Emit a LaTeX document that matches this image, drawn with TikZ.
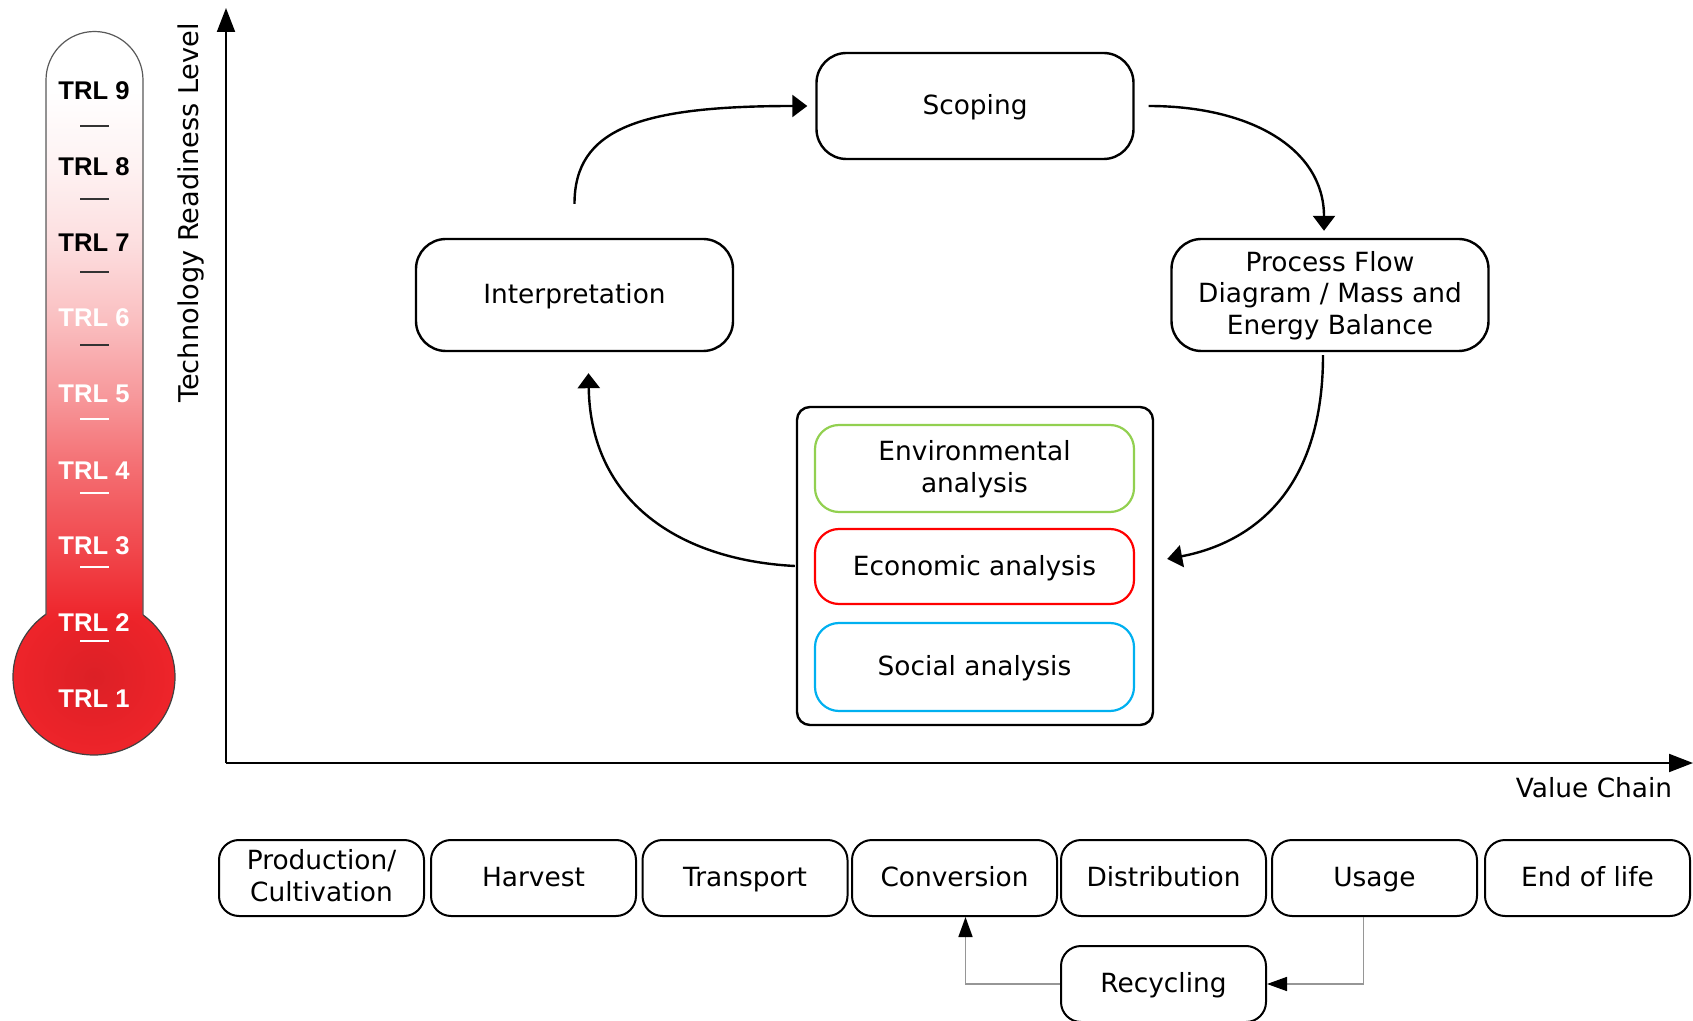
\documentclass[tikz,border=0pt]{standalone}
\usepackage{fontspec}
\setmainfont{DejaVu Sans}
\newfontfamily\trlfont{Liberation Sans}
\usetikzlibrary{arrows.meta,calc}
\definecolor{trlred}{RGB}{238,36,42}
\definecolor{bulbin}{RGB}{220,32,38}
\definecolor{envgreen}{RGB}{146,208,80}
\definecolor{ecored}{RGB}{255,0,0}
\definecolor{socblue}{RGB}{0,176,240}
\definecolor{recgray}{RGB}{150,150,150}
\newcommand\mytopstrut{\rule{0pt}{13.5pt}}
\newcommand\mybotstrut{\rule[-4.74pt]{0pt}{0pt}}
\newcommand\mlstrut{\rule{0pt}{12.5pt}}
\pgfdeclareverticalshading{tubeshade}{100bp}{color(0bp)=(trlred); color(25bp)=(trlred); color(31bp)=(trlred!84!white); color(38bp)=(trlred!66!white); color(44bp)=(trlred!47!white); color(51bp)=(trlred!28!white); color(57bp)=(trlred!15!white); color(63.5bp)=(trlred!6!white); color(70bp)=(white); color(100bp)=(white)}
\begin{document}
\begin{tikzpicture}[x=0.5pt,y=-0.5pt,
  txt/.style={font=\fontsize{13.2}{15.8}\selectfont},
  boxtxt/.style={txt,execute at begin node=\mytopstrut,execute at end node=\mybotstrut},
  mainbox/.style={draw,line width=1.2pt,rounded corners=15pt,minimum width=158.5pt,align=center,inner sep=0pt,boxtxt},
  colbox/.style={draw,line width=1.1pt,rounded corners=12pt,minimum width=159.5pt,align=center,inner sep=0pt,boxtxt},
  chainbox/.style={draw,line width=1pt,rounded corners=10pt,minimum width=102.5pt,minimum height=38pt,align=center,inner sep=0pt,boxtxt},
  container/.style={draw,line width=1.2pt,rounded corners=6.5pt,minimum width=178pt,minimum height=159pt,inner sep=0pt},
  flow/.style={line width=1.2pt,-{Triangle[length=7.5pt,width=11pt]}},
  axisline/.style={line width=1pt,-{Triangle[length=12pt,width=9pt]}},
  recyc/.style={draw=recgray,line width=0.8pt,-{Triangle[length=10pt,width=7pt,color=black]}},
  trldark/.style={font=\trlfont\bfseries\fontsize{12.8}{14}\selectfont,text=black},
  trllight/.style={font=\trlfont\bfseries\fontsize{12.8}{14}\selectfont,text=white},
  tick/.style={line width=1pt}
]
\useasboundingbox (0,0) rectangle (1693,1021);

% ---------------- thermometer ----------------
\shade[inner color=bulbin,outer color=trlred,draw=black!75,line width=0.6pt] (94,677) ellipse [x radius=40.5pt,y radius=39pt];
\shade[shading=tubeshade] (46,620) -- (46,80) arc[start angle=180,end angle=0,radius=24.25pt] -- (143,620) -- cycle;
\draw[black!65,line width=0.6pt] (46,615) -- (46,80) arc[start angle=180,end angle=0,radius=24.25pt] -- (143,615);

\node[trldark]  (t9) at (94,91)  {TRL 9};
\node[trldark]  (t8) at (94,167) {TRL 8};
\node[trldark]  (t7) at (94,243) {TRL 7};
\node[trllight] (t6) at (94,318) {TRL 6};
\node[trllight] (t5) at (94,394) {TRL 5};
\node[trllight] (t4) at (94,471) {TRL 4};
\node[trllight] (t3) at (94,546) {TRL 3};
\node[trllight] (t2) at (94,623) {TRL 2};
\node[trllight] (t1) at (94,699) {TRL 1};
\foreach \yy in {126,199,272,345}{\draw[tick,black!80] (80,\yy) -- (109,\yy);}
\foreach \yy in {419,493,567,641}{\draw[tick,white] (80,\yy) -- (109,\yy);}

% ---------------- axes ----------------
\coordinate (origin) at (226,763);
\coordinate (ytip) at (226,8);
\coordinate (xtip) at (1693,763);
\draw[axisline] (origin) -- (ytip);
\draw[axisline] (origin) -- (xtip);
\node[font=\fontsize{13.6}{16}\selectfont,rotate=90] (ylab) at (191,213) {Technology Readiness Level};
\node[txt] (xlab) at (1594,788) {Value Chain};

% ---------------- cycle ----------------
\node[mainbox,minimum height=53pt] (scoping) at (975,106) {Scoping};
\node[mainbox,minimum height=56pt] (interp) at (574.5,295) {Interpretation};
\node[mainbox,minimum height=56pt] (process) at (1330,295) {\mlstrut Process Flow\\Diagram / Mass and\\Energy Balance};

\node[container] (box) at (975,566) {};
\node[colbox,draw=envgreen,minimum height=43.5pt] (env) at (974.5,468.5) {\mlstrut Environmental\\analysis};
\node[colbox,draw=ecored,minimum height=37.5pt] (eco) at (974.5,566.5) {Economic analysis};
\node[colbox,draw=socblue,minimum height=44pt] (soc) at (974.5,667) {Social analysis};

\draw[flow] ($(interp.north)+(0,-34)$) .. controls +(0,-75) and +(-168,0) .. ($(scoping.west)+(-8,0)$);
\draw[flow] ($(scoping.east)+(14,0)$) .. controls +(102,0) and +(0,-82) .. ($(process.north)+(-6,-7)$);
\draw[flow] ($(process.south)+(-7,3)$) .. controls +(0,146) and +(74,-14) .. ($(box.east)+(13,-7)$);
\draw[flow] ($(box.west)+(-1,0)$) .. controls +(-116,-6) and +(2,128) .. ($(interp.south)+(14,21)$);

% ---------------- value chain ----------------
\node[chainbox] (prod) at (321.5,878) {\mlstrut Production/\\Cultivation};
\node[chainbox] (harv) at (533.5,878) {Harvest};
\node[chainbox] (trans) at (745,878) {Transport};
\node[chainbox] (conv) at (954.5,878) {Conversion};
\node[chainbox] (dist) at (1163.5,878) {Distribution};
\node[chainbox] (usage) at (1374.5,878) {Usage};
\node[chainbox] (eol) at (1587.5,878) {End of life};
\node[chainbox] (recy) at (1163.5,984) {Recycling};

\draw[recyc] ($(usage.south)+(-11,0)$) |- (recy.east);
\draw[recyc] (recy.west) -| ($(conv.south)+(11,0)$);
\end{tikzpicture}
\end{document}
